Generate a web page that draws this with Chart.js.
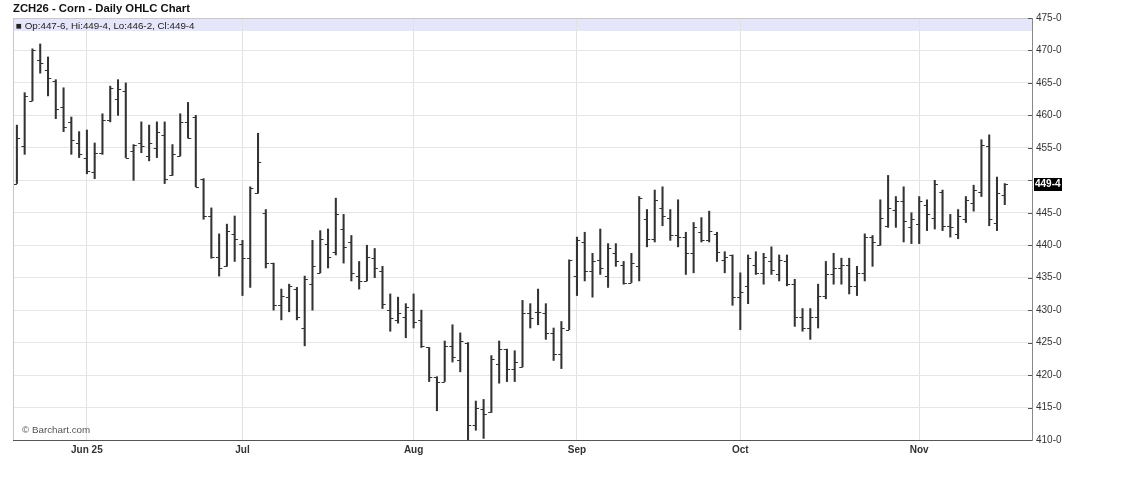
<!DOCTYPE html>
<html>
<head>
<meta charset="utf-8">
<script src="https://cdn.jsdelivr.net/npm/chart.js@4.4.1/dist/chart.umd.min.js"></script>
<style>
  html, body { margin: 0; padding: 0; background: #fff; }
  #wrap { position: relative; width: 1127px; height: 484px; overflow: hidden; }
  #c { position: absolute; left: 0; top: 0; }
  .t { position: absolute; font-family: "Liberation Sans", Arial, sans-serif; white-space: nowrap; }
  #title { left: 13px; top: 2px; font-size: 11.3px; font-weight: bold; color: #111; }
  #leg { left: 16px; top: 18.5px; font-size: 9.8px; color: #222; line-height: 13px; }
  #copy { left: 22px; top: 424px; font-size: 9.8px; color: #555; }
</style>
</head>
<body>
<div id="wrap">
  <canvas id="c" width="1127" height="484"></canvas>
  <div class="t" id="title">ZCH26 - Corn - Daily OHLC Chart</div>
  <div class="t" id="leg">■ Op:447-6, Hi:449-4, Lo:446-2, Cl:449-4</div>
  <div class="t" id="copy">© Barchart.com</div>
</div>
<script>
// ---- data (cents/bushel) ----
const openVals = [449.5,455.25,462.25,468.5,467,465.25,461.25,459,455.75,453.5,451.25,454.25,459.25,462.5,463.75,454.5,455.75,453.75,455,457,
450.75,453.75,459,459.75,450.25,444.5,438.25,436.75,441.75,440.25,438,448,445,437.25,430.75,432,433.25,427.25,434,435.75,
440.25,439,442.5,440.5,435.25,434.5,438,436,430,428.5,429,430,428.5,424.25,419.75,419,424.5,422.25,425,412.25,
414.75,414.25,421.75,424,421,421.25,429.5,429.75,429.5,426.5,423.25,427,435.25,440.5,436,437.75,435.25,438.75,437,434.25,
436.75,444,441,445.75,444.25,441.5,441.25,438.75,442,440.75,441.75,437.75,438.5,432,433.75,437,435.75,437.5,435.5,437.5,
434,429,427.25,429,432.25,435.5,436.5,437,433.75,435.75,441.25,440,443,445.5,446.75,442.75,443.25,446.25,444.25,448.25,
443,441.75,444,446.5,448.25,455.25,443.5,447.75];
const highVals = [458.5,463.5,470.25,471,469,465.5,464.25,459.75,457.5,457.75,455.75,460.25,464.5,465.5,465,455.5,459,458.5,459,459,
455.5,460.25,462,460,450.25,445.75,441.75,443.25,444.5,440.75,449,457.25,445.5,437.25,433.25,434,433.5,435.25,440.75,442.25,
442.5,447.25,444.75,441.5,437.5,440,439.5,436.75,432.5,432,431,432.5,430,424.25,419.75,425.25,427.75,426.5,425,416,
416.25,423,425.25,424,423.75,431.5,431,433.25,431,427.25,428.25,437.75,441.25,442,438.75,442.5,440.25,440.25,437.5,438.75,
447.5,445.5,448.5,449,445.5,447,442,443.5,444.25,445.25,442,439,438.5,435.75,438.5,439,438.75,439.75,438.5,438.5,
434.75,430.25,430.25,434,437.5,438.75,438,438,436.75,441.75,441.5,447,450.75,447.5,449,445,447.5,447,450,448.5,
444.75,445.5,447.5,449.25,456.25,457,450.5,449.5];
const lowVals = [449.5,454,462.25,466.5,463,459.5,457.5,454,453.5,451,450.25,454,459,460,453.5,450,454.25,453,453.5,449.5,
450.75,453.75,456.5,449,444,438,435.25,436.75,437.5,432.25,433.5,448,436.5,430,428.5,429.75,428.5,424.5,430,435.75,
436.5,438.5,437.25,434.5,433.25,434.5,435,430.25,426.75,428,425.75,427.25,424.25,419,414.5,419,422,420.5,410,411.5,
410.25,414.25,418.75,419,419,421.25,427.25,427.75,425.5,422.25,421,427,432.25,434.5,432,435.5,433.5,436.75,434,434.25,
434.5,439.75,440.5,443,440.75,439.75,435.5,435.75,440.5,440.5,437.5,435.75,430.75,427,431,435.5,434,435.5,434.5,433.75,
427.5,426.75,425.5,427.25,431.75,434,434,432.5,432.25,434.5,436.75,440,442.75,442.75,440.5,440.25,440.25,442.25,442.5,442.25,
441.25,441,443.5,445.25,447.5,443,442.25,446.25];
const closeVals = [456.5,463,470,468,465.75,461,458.25,456.25,454,451.5,454.25,459.25,464.25,464,453.5,455.5,455.25,455.75,457.5,450.25,
454,459,456.5,449,444.5,438.25,436.5,442.25,441,438,448.75,452.75,437.25,430.75,432.25,433.75,429,434.75,436.75,441,
438.25,444.75,439.75,435.75,434.5,438.25,436.5,431,428.75,429.5,430.5,428.25,424.5,419.75,419,424.5,422.75,425.25,412.25,415,
414,422.5,424,421,422,429.5,428.75,429.75,426.5,423.25,427.25,437.75,440.75,436,437.5,436.5,439.5,437.5,434.25,437.25,
447.25,441,447,444.5,441.5,441.25,438.75,442.75,440.75,442.25,439,438.25,432,432.75,438,435.75,438.25,436.25,437.75,434,
429,427.25,429,432.25,435.5,436.5,437,433.75,435.75,441.25,440.5,444.25,445.75,446.75,443.75,444,446.75,444.75,449.5,443,
442.75,444.5,447,448.5,455.5,444,448,449.5];

// categories: trading days, plus three empty sessions on the right
const holidays = ['2025-05-26','2025-06-19','2025-07-04','2025-09-01'];
const monthTickLabels = ['Jun 25','Jul','Aug','Sep','Oct','Nov'];
const yMin = 410, yMax = 475, yStep = 5;

const tradingDays = [];
(function(){
  let d = new Date(Date.UTC(2025,4,19));
  while (tradingDays.length < openVals.length + 3) {
    const wd = d.getUTCDay();
    const iso = d.toISOString().slice(0,10);
    if (wd !== 0 && wd !== 6 && holidays.indexOf(iso) < 0) tradingDays.push(iso);
    d = new Date(d.getTime() + 86400000);
  }
})();
const monthStartIdx = [];
tradingDays.forEach((d,i)=>{ if (i>0 && d.slice(5,7) !== tradingDays[i-1].slice(5,7)) monthStartIdx.push(i); });

function fmtPrice(v){
  const w = Math.floor(v + 1e-9);
  const e = Math.round((v - w) * 8);
  return w + '-' + e;
}
const lastClose = closeVals[closeVals.length-1];
const FONT = '"Liberation Sans", Arial, sans-serif';

const bgPlugin = {
  id: 'bg',
  beforeDraw(chart){
    const c = chart.ctx, a = chart.chartArea;
    c.save();
    c.fillStyle = '#fff';
    c.fillRect(0,0,chart.width,chart.height);
    c.fillStyle = '#e6e6fa';
    c.fillRect(a.left, a.top, a.right - a.left, 13);
    c.restore();
  },
  afterDraw(chart){
    const c = chart.ctx, a = chart.chartArea, ys = chart.scales.y;
    c.save();
    c.strokeStyle = '#c8c8c8'; c.lineWidth = 1;
    c.beginPath();
    c.moveTo(a.left + 0.5, a.top); c.lineTo(a.left + 0.5, a.bottom);
    c.moveTo(a.left, a.top + 0.5); c.lineTo(a.right, a.top + 0.5);
    c.stroke();
    // inward tick marks on the price axis
    c.strokeStyle = '#555';
    c.beginPath();
    ys.ticks.forEach(t => {
      const y = Math.round(ys.getPixelForValue(t.value)) + 0.5;
      c.moveTo(a.right - 4, y); c.lineTo(a.right, y);
    });
    c.stroke();
    // last price box
    const y = Math.round(ys.getPixelForValue(lastClose));
    c.fillStyle = '#000';
    c.fillRect(a.right + 2, y - 6, 28, 13);
    c.fillStyle = '#fff';
    c.font = 'bold 10px ' + FONT;
    c.textBaseline = 'middle';
    c.textAlign = 'left';
    c.fillText(fmtPrice(lastClose), a.right + 3, y + 0.5);
    c.restore();
  }
};

const ohlcTicks = {
  id: 'ohlcTicks',
  afterDatasetsDraw(chart){
    const c = chart.ctx, ys = chart.scales.y;
    const meta = chart.getDatasetMeta(0);
    c.save();
    c.strokeStyle = '#333'; c.lineWidth = 1;
    c.beginPath();
    meta.data.forEach((el, i) => {
      const x = el.x;
      const yo = Math.round(ys.getPixelForValue(openVals[i])) + 0.5;
      const yc = Math.round(ys.getPixelForValue(closeVals[i])) + 0.5;
      c.moveTo(x - 3.2, yo); c.lineTo(x, yo);
      c.moveTo(x, yc); c.lineTo(x + 3.2, yc);
    });
    c.stroke();
    c.restore();
  }
};

new Chart(document.getElementById('c'), {
  type: 'bar',
  data: {
    labels: tradingDays,
    datasets: [{
      data: openVals.map((_, i) => [lowVals[i], highVals[i]]),
      backgroundColor: '#333',
      borderWidth: 0,
      barThickness: 1.4,
      grouped: false
    }]
  },
  options: {
    responsive: false,
    animation: false,
    devicePixelRatio: 1,
    events: [],
    layout: { padding: { left: 13, top: 18, right: 0, bottom: 0 } },
    plugins: { legend: { display: false }, tooltip: { enabled: false }, title: { display: false } },
    scales: {
      x: {
        type: 'category',
        offset: true,
        grid: {
          offset: false,
          drawTicks: false,
          color: ctx => monthStartIdx.indexOf(ctx.index) >= 0 ? '#e2e2e2' : 'rgba(0,0,0,0)'
        },
        border: { color: '#555', width: 1 },
        ticks: {
          autoSkip: false, maxRotation: 0, minRotation: 0, padding: 4,
          color: '#333',
          font: { family: FONT, size: 10, weight: 'bold' },
          callback: (v, i) => { const k = monthStartIdx.indexOf(i); return k >= 0 ? monthTickLabels[k] : ''; }
        },
        afterFit: s => { s.height = 44; }
      },
      y: {
        position: 'right',
        min: yMin, max: yMax,
        grid: { color: '#e6e6e6', drawTicks: false },
        border: { color: '#888', width: 1 },
        ticks: {
          stepSize: yStep, padding: 4, color: '#333',
          font: { family: FONT, size: 10 },
          callback: v => (Math.abs(v - lastClose) < 2.5 ? '' : fmtPrice(v))
        },
        afterFit: s => { s.width = 95; }
      }
    }
  },
  plugins: [bgPlugin, ohlcTicks]
});
</script>
</body>
</html>
